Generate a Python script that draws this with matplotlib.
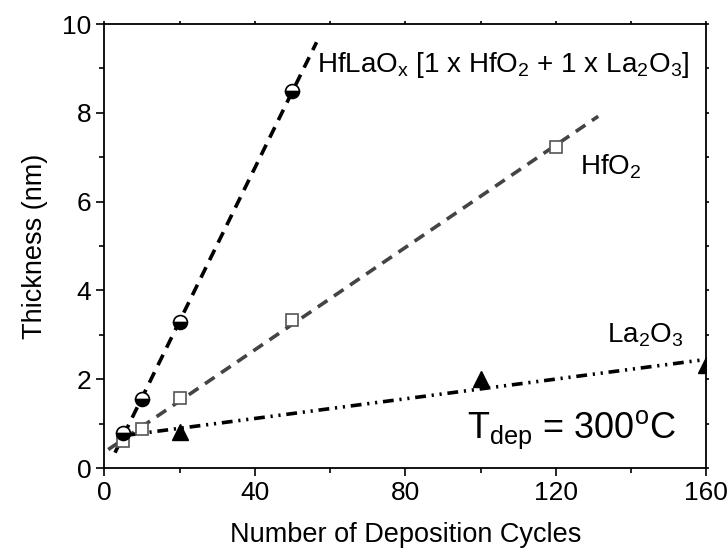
import numpy as np
import matplotlib
matplotlib.use("Agg")
import matplotlib.pyplot as plt
from matplotlib.ticker import MultipleLocator

plt.rcParams['font.family'] = ['Liberation Sans', 'DejaVu Sans']
plt.rcParams['mathtext.fontset'] = 'custom'
plt.rcParams['mathtext.rm'] = 'Liberation Sans'
plt.rcParams['mathtext.it'] = 'Liberation Sans'

# thickness vs. number of ALD cycles
cyc_hflao = [5, 10, 20, 50]
thk_hflao = [0.78, 1.55, 3.28, 8.5]

cyc_hfo2 = [5, 10, 20, 50, 120]
thk_hfo2 = [0.6, 0.87, 1.57, 3.33, 7.23]

cyc_la2o3 = [20, 100, 160]
thk_la2o3 = [0.8, 2.0, 2.32]

# x range over which each linear fit is drawn
fit_range_hflao = [2.8, 56.4]
fit_range_hfo2 = [1.0, 131.3]
fit_range_la2o3 = [5.5, 160]

fig = plt.figure(figsize=(7.28, 5.53), dpi=100)
ax = fig.add_axes([0.1435, 0.1537, 0.8265, 0.8029])


def fit_line(x, y, xr):
    k, b = np.polyfit(x, y, 1)
    xs = np.array(xr)
    return xs, k * xs + b


xs, ys = fit_line(cyc_hflao, thk_hflao, fit_range_hflao)
ax.plot(xs, ys, color='black', lw=2.6, dashes=(3.2, 2.2), zorder=2)
xs, ys = fit_line(cyc_hfo2, thk_hfo2, fit_range_hfo2)
ax.plot(xs, ys, color='#444444', lw=2.6, dashes=(3.2, 2.2), zorder=2)
xs, ys = fit_line(cyc_la2o3, thk_la2o3, fit_range_la2o3)
ax.plot(xs, ys, color='black', lw=2.6, dashes=(3.0, 1.6, 0.6, 1.6, 0.6, 1.6), zorder=2)

ax.plot(cyc_hfo2, thk_hfo2, ls='none', marker='s', ms=9, mfc='white',
        mec='#555555', mew=1.2, zorder=3)
ax.plot(cyc_la2o3, thk_la2o3, ls='none', marker='^', ms=11, color='black',
        clip_on=True, zorder=3)
ax.plot(cyc_hflao, thk_hflao, ls='none', marker='o', ms=10, fillstyle='bottom',
        mfc='black', mfcalt='white', mec='black', mew=1.2, zorder=4)

lbl_size = 20
ax.text(56.4, 9.08, r'HfLaO$_{\mathregular{x}}$ [1 x HfO$_{\mathregular{2}}$ + 1 x La$_{\mathregular{2}}$O$_{\mathregular{3}}$]',
        fontsize=lbl_size, va='center', ha='left')
ax.text(126.5, 6.79, r'HfO$_{\mathregular{2}}$', fontsize=lbl_size, va='center', ha='left')
ax.text(133.5, 3.0, r'La$_{\mathregular{2}}$O$_{\mathregular{3}}$', fontsize=lbl_size, va='center', ha='left')
ax.text(96.3, 0.86, r'T$_{\mathregular{dep}}$ = 300$^{\mathregular{o}}$C', fontsize=26,
        va='center', ha='left')

ax.set_xlim(0, 160)
ax.set_ylim(0, 10)
ax.xaxis.set_major_locator(MultipleLocator(40))
ax.xaxis.set_minor_locator(MultipleLocator(20))
ax.yaxis.set_major_locator(MultipleLocator(2))
ax.yaxis.set_minor_locator(MultipleLocator(1))

ax.set_xlabel('Number of Deposition Cycles', fontsize=19.5, labelpad=12)
ax.set_ylabel('Thickness (nm)', fontsize=19.5, labelpad=10)

for s in ax.spines.values():
    s.set_linewidth(1.3)
ax.tick_params(which='major', direction='out', length=6, width=1.2, labelsize=19,
               top=True, right=True)
ax.tick_params(which='minor', direction='out', length=3.5, width=1.2, top=True, right=True)
ax.tick_params(axis='both', which='both', labeltop=False, labelright=False)
# short ticks on the top and right spines
for t in ax.xaxis.get_ticklines(minor=False)[1::2] + ax.yaxis.get_ticklines(minor=False)[1::2]:
    t.set_markersize(2)
for t in ax.xaxis.get_ticklines(minor=True)[1::2] + ax.yaxis.get_ticklines(minor=True)[1::2]:
    t.set_markersize(2)

fig.savefig('out.png', dpi=100)
